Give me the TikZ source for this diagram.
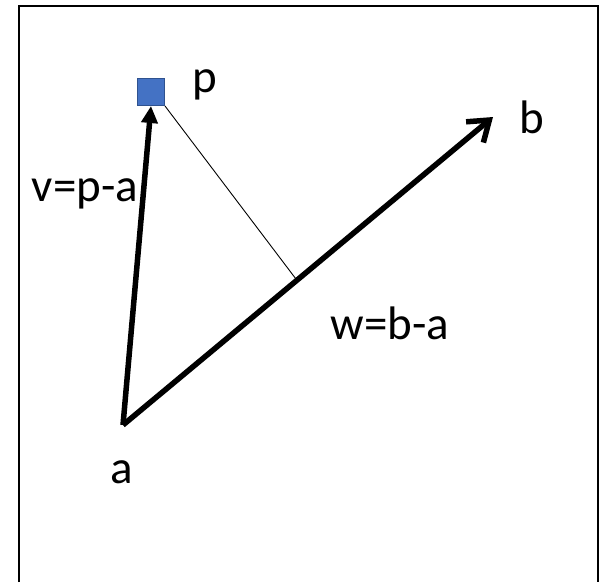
\documentclass[tikz,border=0pt]{standalone}
\usepackage{fontspec}
\setmainfont{Carlito}
\usetikzlibrary{arrows.meta,calc}
\definecolor{ptblue}{RGB}{68,114,196}
\definecolor{ptedge}{RGB}{47,82,143}

\begin{document}
\begin{tikzpicture}[x=1pt, y=-1pt,
	every node/.style={font=\fontsize{47}{56}\selectfont, inner sep=0pt, anchor=base},
	vec/.style={line width=5.5pt, line join=miter}]
	\useasboundingbox (0,0) rectangle (610,582);
	% Frame
	\draw[line width=2pt] (19,582) |- (598,5.5) -- (598,582);
	% Points
	\coordinate (a) at (123,425);
	\coordinate (b) at (493,117);
	\node[draw=ptedge, fill=ptblue, line width=1pt, minimum size=27pt, anchor=center] (p) at (151,92) {};
	% Vectors
	\draw[vec, -{Triangle[length=17pt,width=16pt]}] (a) -- (p.south);
	\draw[vec, -{Straight Barb[length=19pt,width=27pt]}] (a) -- (b);
	% Projection of p onto w
	\coordinate (foot) at ($(a)!0.47!(b)$);
	\draw[line width=0.9pt] (p.south east) -- (foot);
	% Labels
	\node (plbl) at (205,92) {p};
	\node (blbl) at (532,133) {b};
	\node (albl) at (122,483) {a};
	\node (vlbl) at (85,201) {v=p-a};
	\node (wlbl) at (390,339) {w=b-a};
\end{tikzpicture}
\end{document}
